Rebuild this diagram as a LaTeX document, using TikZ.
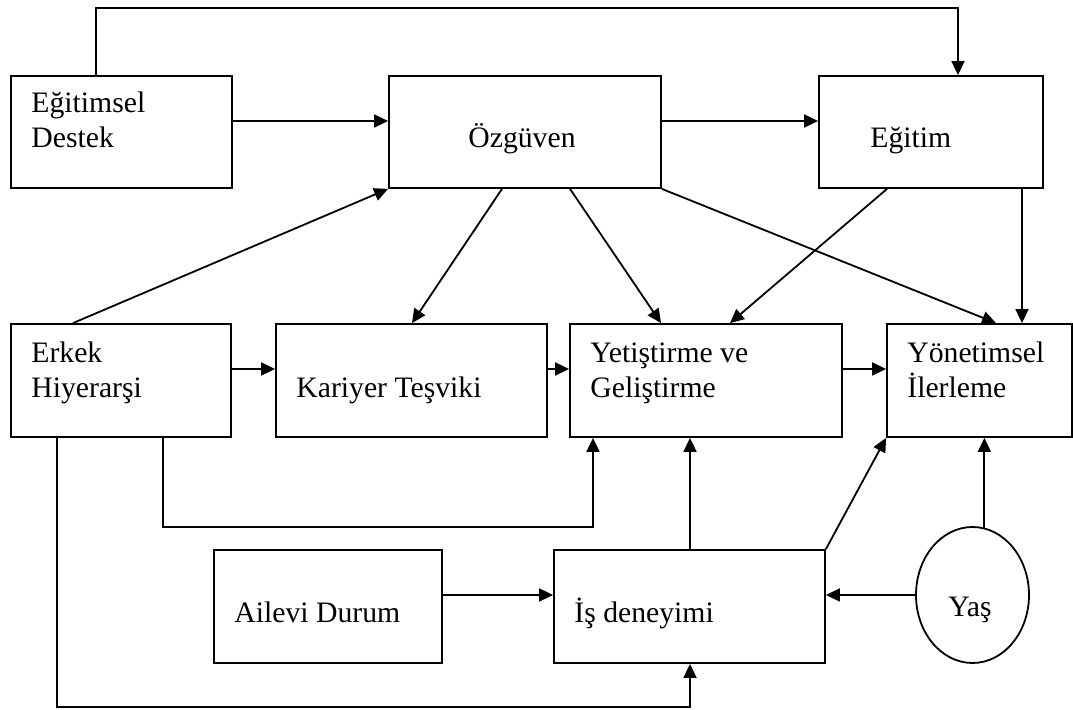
\documentclass[tikz,border=0pt]{standalone}
\usepackage{fontspec}
\setmainfont{Liberation Serif}
\usetikzlibrary{arrows.meta,fit,shapes.geometric}

\tikzset{
  box/.style={draw, line width=0.9pt, rectangle, inner sep=0pt},
  oval/.style={draw, line width=0.9pt, ellipse, inner sep=0pt,
               minimum width=56.5pt, minimum height=68pt},
  lbl/.style={anchor=base west, inner sep=0pt,
              font=\fontsize{14.85pt}{17.5pt}\selectfont},
  arr/.style={line width=0.9pt, -{Triangle[length=7pt,width=6.5pt]}},
  ln/.style={line width=0.9pt},
}

\begin{document}
\begin{tikzpicture}[x=0.5pt, y=-0.5pt]
\useasboundingbox (0,0) rectangle (1073,710);

% boxes
\node[box, fit={(11,76) (232,188)}]   (ed) {};
\node[box, fit={(389,76) (661,188)}]  (oz) {};
\node[box, fit={(819,76) (1043,188)}] (eg) {};
\node[box, fit={(11,324) (231,437)}]  (eh) {};
\node[box, fit={(276,324) (547,437)}] (kt) {};
\node[box, fit={(570,324) (842,437)}] (yg) {};
\node[box, fit={(887,324) (1072,437)}] (yi) {};
\node[box, fit={(214,550) (442,663)}] (ad) {};
\node[box, fit={(554,550) (825,663)}] (id) {};
\node[oval] (yas) at (972.5,595) {};

% labels
\node[lbl] (ed1) at (31,113) {Eğitimsel};
\node[lbl] (ed2) at (31,148) {Destek};
\node[lbl] (ozt) at (468,148) {Özgüven};
\node[lbl] (egt) at (870,148) {Eğitim};
\node[lbl] (eh1) at (31,363) {Erkek};
\node[lbl] (eh2) at (31,398) {Hiyerarşi};
\node[lbl] (ktt) at (296,398) {Kariyer Teşviki};
\node[lbl] (yg1) at (590,363) {Yetiştirme ve};
\node[lbl] (yg2) at (590,398) {Geliştirme};
\node[lbl] (yi1) at (907,363) {Yönetimsel};
\node[lbl] (yi2) at (907,398) {İlerleme};
\node[lbl] (adt) at (234,623) {Ailevi Durum};
\node[lbl] (idt) at (574,623) {İş deneyimi};
\node[lbl] (yast) at (948,617) {Yaş};

% top row
\draw[arr] (ed.east |- 0,121) -- (oz.west |- 0,121);
\draw[arr] (oz.east |- 0,121) -- (eg.west |- 0,121);
\draw[arr] (ed.north -| 96,0) -- (96,8) -| (eg.north -| 958,0);

% from the top row downwards
\draw[arr] (eh.north -| 73,0) -- (oz.south west);
\draw[arr] (oz.south -| 502,0) -- (kt.north -| 412,0);
\draw[arr] (oz.south -| 570,0) -- (yg.north -| 661,0);
\draw[arr] (oz.south east) -- (yi.north -| 996,0);
\draw[arr] (eg.south -| 887,0) -- (yg.north -| 730,0);
\draw[arr] (eg.south -| 1022,0) -- (yi.north -| 1022,0);

% middle row
\draw[arr] (eh.east |- 0,369) -- (kt.west |- 0,369);
\draw[arr] (kt.east |- 0,369) -- (yg.west |- 0,369);
\draw[arr] (yg.east |- 0,369) -- (yi.west |- 0,369);

% elbow connectors from Erkek Hiyerarşi
\draw[arr] (eh.south -| 163,0) -- (163,527) -| (yg.south -| 593,0);
\draw[arr] (eh.south -| 57,0) -- (57,707) -| (id.south -| 690,0);

% bottom row
\draw[arr] (ad.east |- 0,595) -- (id.west |- 0,595);
\draw[arr] (id.north -| 690,0) -- (yg.south -| 690,0);
\draw[arr] (id.north east) -- (yi.south west);
\draw[arr] (yas.west) -- (id.east |- yas.west);
\draw[arr] (yas.80) -- (yi.south -| yas.80);
\end{tikzpicture}
\end{document}
